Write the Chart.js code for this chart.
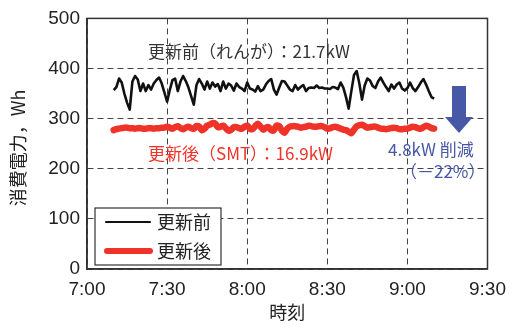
<!DOCTYPE html>
<html>
<head>
<meta charset="utf-8">
<script src="https://cdn.jsdelivr.net/npm/chart.js@4.4.0/dist/chart.umd.min.js"></script>
<style>
  html, body { margin: 0; padding: 0; background: #fff; }
  #wrap { width: 515px; height: 327px; }
</style>
</head>
<body>
<div id="wrap"><canvas id="main-chart" width="515" height="327"></canvas></div>
<script>
// minutes after 7:00, one sample per minute from 7:10 to 9:10
const times = [];
for (let m = 10; m <= 130; m++) times.push(m);

// 更新前 (black)
const beforeValues = [
  357, 363, 380, 372, 350, 332, 318, 374, 385, 378,
  355, 370, 355, 367, 358, 370, 377, 382, 370, 352,
  334, 357, 377, 380, 355, 374, 385, 375, 362, 345,
  328, 367, 379, 370, 358, 374, 360, 372, 364, 369,
  355, 374, 360, 370, 366, 356, 370, 363, 360, 355,
  372, 360, 358, 354, 365, 355, 358, 368, 375, 379,
  358, 348, 362, 375, 374, 366, 358, 355, 367, 358,
  363, 367, 355, 361, 362, 361, 366, 361, 362, 360,
  360, 359, 363, 362, 359, 372, 362, 343, 320, 355,
  387, 395, 370, 338, 366, 380, 376, 365, 361, 374,
  382, 372, 363, 355, 368, 360, 368, 372, 360, 356,
  361, 372, 361, 355, 363, 372, 379, 368, 355, 343,
  340
];

// 更新後 (red)
const afterValues = [
  277, 279, 280, 281, 282, 282, 281, 281, 280, 281,
  281, 280, 280, 281, 281, 280, 281, 281, 282, 282,
  284, 282, 280, 283, 285, 281, 279, 282, 284, 281,
  280, 285, 284, 277, 280, 286, 288, 291, 290, 283,
  284, 286, 281, 276, 278, 283, 283, 281, 280, 284,
  286, 280, 279, 285, 290, 284, 278, 282, 283, 277,
  277, 286, 285, 276, 272, 280, 284, 285, 285, 284,
  282, 283, 284, 286, 285, 284, 284, 285, 285, 283,
  280, 281, 283, 284, 282, 280, 278, 277, 274, 271,
  278, 285, 287, 288, 285, 282, 283, 284, 284, 282,
  280, 280, 279, 280, 281, 282, 281, 279, 279, 280,
  280, 282, 284, 283, 281, 280, 283, 286, 284, 281,
  280
];

const seriesNames = ["更新前", "更新後"];
const xTicks = [0, 30, 60, 90, 120, 150];
const yTicks = [0, 100, 200, 300, 400, 500];

const NUM_FONT = "'Liberation Sans', 'Noto Sans CJK JP', sans-serif";
const JP_FONT = "'Noto Sans CJK JP', 'Liberation Sans', sans-serif";
const BLUE = "#4658a6";
const RED = "#ef3328";

function fmtTime(v) {
  return (7 + Math.floor(v / 60)) + ":" + String(v % 60).padStart(2, "0");
}

// frame, notes, arrow and the boxed legend
const decorations = {
  id: "decorations",
  afterDraw(chart) {
    const { ctx, chartArea: a } = chart;
    ctx.save();

    // top / right frame
    ctx.strokeStyle = "#333";
    ctx.lineWidth = 1.5;
    ctx.strokeRect(a.left, a.top, a.right - a.left, a.bottom - a.top);

    // notes
    ctx.textBaseline = "middle";
    ctx.textAlign = "left";
    ctx.font = "17px " + JP_FONT;
    ctx.fillStyle = "#333";
    ctx.fillText("更新前（れんが）：21.7kW", 148, 52);
    ctx.fillStyle = RED;
    ctx.fillText("更新後（SMT）：16.9kW", 148, 154);
    ctx.fillStyle = BLUE;
    ctx.fillText("4.8kW 削減", 388, 150);
    ctx.fillText("（－22%）", 400, 172);

    // down arrow
    ctx.fillStyle = BLUE;
    ctx.beginPath();
    ctx.moveTo(452, 86);
    ctx.lineTo(466, 86);
    ctx.lineTo(466, 117);
    ctx.lineTo(473, 117);
    ctx.lineTo(459, 133);
    ctx.lineTo(445, 117);
    ctx.lineTo(452, 117);
    ctx.closePath();
    ctx.fill();

    // legend
    ctx.fillStyle = "#fff";
    ctx.fillRect(95, 208, 126, 57);
    ctx.strokeStyle = "#333";
    ctx.lineWidth = 1.2;
    ctx.strokeRect(95, 208, 126, 57);
    ctx.lineCap = "round";
    ctx.strokeStyle = "#111";
    ctx.lineWidth = 2;
    ctx.beginPath(); ctx.moveTo(106, 222); ctx.lineTo(150, 222); ctx.stroke();
    ctx.strokeStyle = RED;
    ctx.lineWidth = 6;
    ctx.beginPath(); ctx.moveTo(107, 251); ctx.lineTo(150, 251); ctx.stroke();
    ctx.fillStyle = "#222";
    ctx.font = "18px " + JP_FONT;
    ctx.fillText(seriesNames[0], 157, 222);
    ctx.fillText(seriesNames[1], 157, 251);

    // y title
    ctx.translate(18, 148);
    ctx.rotate(-Math.PI / 2);
    ctx.textAlign = "center";
    ctx.font = "18px " + JP_FONT;
    ctx.fillStyle = "#222";
    ctx.fillText("消費電力，Wh", 0, 0);
    ctx.restore();
  }
};

const chartCanvas = document.getElementById("main-chart");

const powerChart = new Chart(chartCanvas, {
  type: "line",
  data: {
    datasets: [
      {
        label: seriesNames[1],
        data: times.map((t, i) => ({ x: t, y: afterValues[i] })),
        borderColor: RED,
        borderWidth: 6.5,
        borderCapStyle: "round",
        borderJoinStyle: "round",
        pointRadius: 0,
        tension: 0.3,
      },
      {
        label: seriesNames[0],
        data: times.map((t, i) => ({ x: t, y: beforeValues[i] })),
        borderColor: "#111",
        borderWidth: 2.6,
        borderJoinStyle: "round",
        pointRadius: 0,
        tension: 0,
      },
    ],
  },
  options: {
    responsive: false,
    animation: false,
    devicePixelRatio: 1,
    layout: { padding: { top: 17, right: 22, left: 0, bottom: 0 } },
    scales: {
      x: {
        type: "linear",
        min: 0,
        max: 150,
        afterBuildTicks: (s) => { s.ticks = xTicks.map(v => ({ value: v })); },
        afterFit: (s) => { s.height = 58; },
        ticks: {
          callback: (v) => fmtTime(v),
          font: { family: NUM_FONT, size: 19 },
          color: "#222",
          padding: 9,
          maxRotation: 0,
        },
        grid: { color: "#444", lineWidth: 1, drawTicks: false },
        border: { display: true, color: "#333", width: 1.5, dash: [6, 4] },
        title: {
          display: true,
          text: "時刻",
          font: { family: JP_FONT, size: 18 },
          color: "#222",
          padding: { top: 14 },
        },
      },
      y: {
        min: 0,
        max: 500,
        afterBuildTicks: (s) => { s.ticks = yTicks.map(v => ({ value: v })); },
        afterFit: (s) => { s.width = 87; },
        ticks: {
          font: { family: NUM_FONT, size: 19 },
          color: "#222",
          padding: 7,
        },
        grid: { color: "#444", lineWidth: 1, drawTicks: false },
        border: { display: true, color: "#333", width: 1.5, dash: [6, 4] },
      },
    },
    plugins: {
      legend: { display: false },
      tooltip: { enabled: false },
    },
  },
  plugins: [decorations],
});
</script>
</body>
</html>
